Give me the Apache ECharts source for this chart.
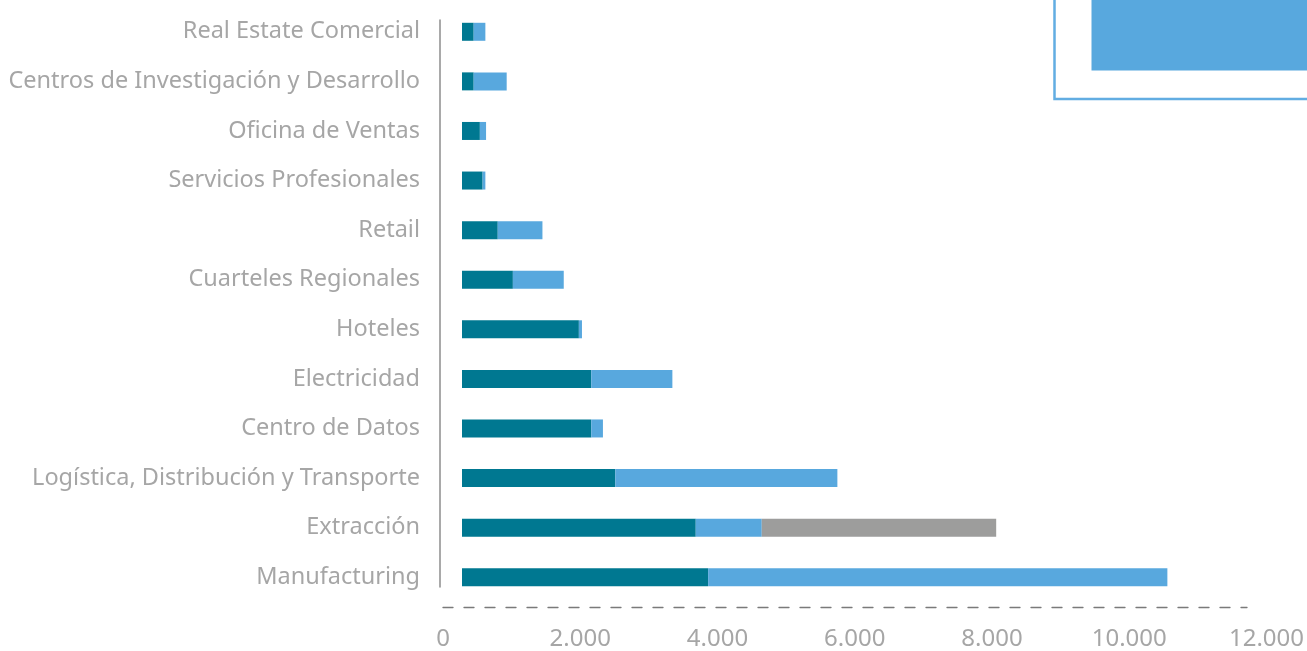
<!DOCTYPE html>
<html>
<head>
<meta charset="utf-8">
<title>Sectores</title>
<script src="https://cdn.jsdelivr.net/npm/echarts@6/dist/echarts.min.js"></script>
<style>
  html, body { margin: 0; padding: 0; background: #fff; }
  #chart { width: 1307px; height: 651px; }
</style>
</head>
<body>
<div id="chart"></div>
<script>
// categorias de abajo hacia arriba
var categorias = ['Manufacturing', 'Extracción', 'Logística, Distribución y Transporte',
    'Centro de Datos', 'Electricidad', 'Hoteles', 'Cuarteles Regionales', 'Retail',
    'Servicios Profesionales', 'Oficina de Ventas', 'Centros de Investigación y Desarrollo',
    'Real Estate Comercial'];

var serieOscura = [3580, 3400, 2230, 1880, 1880, 1700, 740, 520, 300, 260, 170, 170];
var serieClara  = [6680, 960, 3230, 170, 1180, 45, 740, 650, 40, 90, 480, 170];
var serieGris   = ['-', 3410, '-', '-', '-', '-', '-', '-', '-', '-', '-', '-'];

var ticksX = [0, 2000, 4000, 6000, 8000, 10000, 12000];

var gris = '#a6a6a6';
var fuente = 'Noto Sans';

function miles(v) {
    return String(v).replace(/\B(?=(\d{3})+(?!\d))/g, '.');
}

var myChart = echarts.init(document.getElementById('chart'));

var option = {
    animation: false,
    grid: [
        // barras
        { left: 462, right: 20, top: 7, bottom: 49 },
        // etiquetas del eje x
        { left: 443, right: 39, top: 20, bottom: 44 },
        // lineas de ejes
        { left: 443, right: 60, top: 20, bottom: 64 }
    ],
    xAxis: [
        { gridIndex: 0, type: 'value', min: 0, max: 12000, show: false },
        {
            gridIndex: 1, type: 'value',
            min: ticksX[0], max: ticksX[ticksX.length - 1], interval: 2000,
            axisLine: { show: false },
            axisTick: { show: false },
            splitLine: { show: false },
            axisLabel: {
                margin: 27,
                color: gris,
                fontFamily: fuente,
                fontSize: 24,
                formatter: miles
            }
        },
        {
            gridIndex: 2, type: 'value', min: 0, max: 1,
            offset: 20,
            axisLine: { show: true, onZero: false, lineStyle: { color: '#7a7a7a', width: 1.3, type: [10, 11] } },
            axisTick: { show: false },
            axisLabel: { show: false },
            splitLine: { show: false }
        }
    ],
    yAxis: [
        {
            gridIndex: 0, type: 'category',
            data: categorias,
            axisLine: { show: false },
            axisTick: { show: false },
            axisLabel: {
                margin: 42,
                color: gris,
                fontFamily: fuente,
                fontSize: 23.5,
                padding: [5, 0, 0, 0]
            }
        },
        { gridIndex: 1, type: 'value', show: false },
        {
            gridIndex: 2, type: 'value', min: 0, max: 1, offset: 3,
            axisLine: { show: true, onZero: false, lineStyle: { color: '#8c8c8c', width: 1.5 } },
            axisTick: { show: false },
            axisLabel: { show: false },
            splitLine: { show: false }
        }
    ],
    series: [
        {
            name: 'Serie 1', type: 'bar', stack: 'total', barWidth: 18,
            xAxisIndex: 0, yAxisIndex: 0,
            itemStyle: { color: '#007891' },
            data: serieOscura
        },
        {
            name: 'Serie 2', type: 'bar', stack: 'total', barWidth: 18,
            xAxisIndex: 0, yAxisIndex: 0,
            itemStyle: { color: '#58a8de' },
            data: serieClara
        },
        {
            name: 'Serie 3', type: 'bar', stack: 'total', barWidth: 18,
            xAxisIndex: 0, yAxisIndex: 0,
            itemStyle: { color: '#9d9d9c' },
            data: serieGris
        }
    ],
    // recuadro de leyenda cortado arriba a la derecha
    graphic: [
        {
            type: 'rect',
            shape: { x: 1054.5, y: -10, width: 300, height: 109 },
            style: { fill: '#fff', stroke: '#62ade2', lineWidth: 2.5 }
        },
        {
            type: 'rect',
            shape: { x: 1091.5, y: -10, width: 260, height: 80.5 },
            style: { fill: '#58a8de' }
        }
    ]
};

myChart.setOption(option);
window.addEventListener('resize', function () {
    myChart.resize();
});
</script>
</body>
</html>
